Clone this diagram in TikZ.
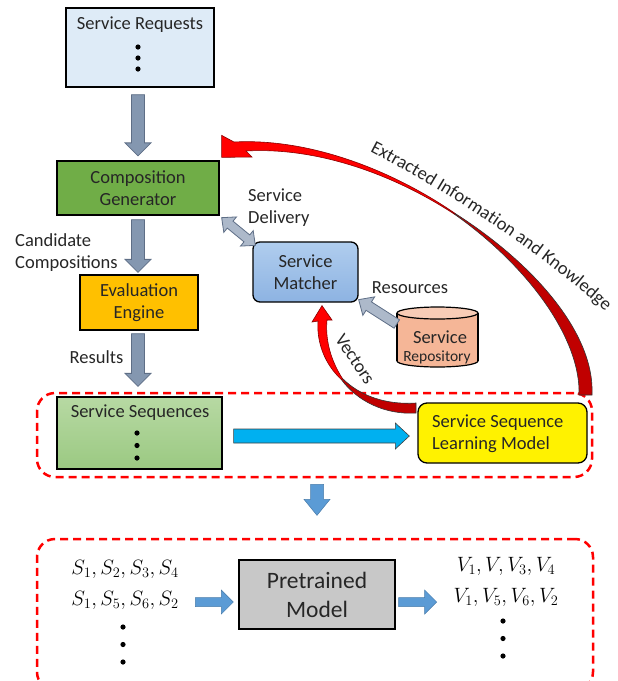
\documentclass[tikz,border=0pt]{standalone}
\usepackage{fontspec}
\setmainfont{Carlito}
\usetikzlibrary{calc,decorations.text}

\definecolor{reqblue}{HTML}{DEEBF7}
\definecolor{gengreen}{HTML}{70AD47}
\definecolor{evalorange}{HTML}{FFC000}
\definecolor{matchtop}{HTML}{B0CDEE}
\definecolor{matchbot}{HTML}{8DB3E2}
\definecolor{seqtop}{HTML}{B7D9A3}
\definecolor{seqbot}{HTML}{9BC982}
\definecolor{repofill}{HTML}{F5B697}
\definecolor{pregray}{HTML}{C8C8C8}
\definecolor{slate}{HTML}{8497B0}
\definecolor{slatedark}{HTML}{5E6E86}
\definecolor{slatelight}{HTML}{ADB9CA}
\definecolor{cyanarrow}{HTML}{00B0F0}
\definecolor{steel}{HTML}{5B9BD5}
\definecolor{ribbonred}{HTML}{FF0000}
\definecolor{ribbondark}{HTML}{C00000}
\definecolor{ink}{HTML}{262626}

\newcommand\diagfont{\fontsize{18.5}{22.5}\selectfont}
\newcommand\smallrepofont{\fontsize{15.5}{18}\selectfont}
\newcommand\prefont{\fontsize{23.5}{29}\selectfont}
\newcommand\seqmathfont{\fontsize{22}{30.5}\selectfont}

% straight block arrow: style, tail, tip, shaft half width, head half width, head length
\newcommand\blockarrow[6]{%
  \coordinate (ba-s) at (#2);
  \coordinate (ba-e) at (#3);
  \coordinate (ba-h) at ($(ba-e)!#6!(ba-s)$);
  \draw[#1] ($(ba-s)!#4!90:(ba-e)$) -- ($(ba-h)!#4!-90:(ba-s)$) -- ($(ba-h)!#5!-90:(ba-s)$)
    -- (ba-e) -- ($(ba-h)!#5!90:(ba-s)$) -- ($(ba-h)!#4!90:(ba-s)$) -- ($(ba-s)!#4!-90:(ba-e)$) -- cycle;
}
% block arrow with a head at both ends
\newcommand\dblarrow[6]{%
  \coordinate (da-s) at (#2);
  \coordinate (da-e) at (#3);
  \coordinate (da-h1) at ($(da-s)!#6!(da-e)$);
  \coordinate (da-h2) at ($(da-e)!#6!(da-s)$);
  \draw[#1] (da-s) -- ($(da-h1)!#5!90:(da-e)$) -- ($(da-h1)!#4!90:(da-e)$) -- ($(da-h2)!#4!-90:(da-s)$)
    -- ($(da-h2)!#5!-90:(da-s)$) -- (da-e) -- ($(da-h2)!#5!90:(da-s)$) -- ($(da-h2)!#4!90:(da-s)$)
    -- ($(da-h1)!#4!-90:(da-e)$) -- ($(da-h1)!#5!-90:(da-e)$) -- cycle;
}

\tikzset{
  box/.style={draw=black, line width=1.3pt, text=ink, font=\diagfont, align=center, inner sep=0pt},
  txt/.style={text=ink, font=\diagfont, inner sep=0pt},
  region/.style={draw=red, line width=2.5pt, dash pattern=on 8pt off 5pt, rounded corners=18pt, inner sep=0pt},
  slatearrow/.style={fill=slate, draw=slatedark, line width=0.8pt},
  palearrow/.style={fill=slatelight, draw=slatedark, line width=0.8pt},
  cyanblock/.style={fill=cyanarrow, draw=black!75, line width=0.6pt},
  steelblock/.style={fill=steel, draw=steel!80!black, line width=0.5pt},
  ribbonlight/.style={fill=ribbonred, draw=ribbondark!70!black, line width=0.6pt},
  ribbonshade/.style={fill=ribbondark, draw=black!80, line width=0.6pt},
  dot/.style={fill=black},
}

\begin{document}
\begin{tikzpicture}[x=1pt, y=-1pt]
\useasboundingbox (0,0) rectangle (618,681);

% dashed regions
\node[region, minimum width=555pt, minimum height=84pt] (learnzone) at (314.5,435) {};
\node[region, minimum width=556pt, minimum height=151pt] (pretrainzone) at (315,614.5) {};

% boxes of the pipeline
\node[box, fill=reqblue, minimum width=148pt, minimum height=79pt] (req) at (140,47.5) {};
\node[txt] (reqtxt) at (140,25) {Service Requests};
\fill[dot] (138,47) circle[radius=2.6pt] (138,58) circle[radius=2.6pt] (138,69) circle[radius=2.6pt];

\node[box, fill=gengreen, minimum width=162pt, minimum height=54pt] (gen) at (138,188) {Composition\\Generator};
\node[box, fill=evalorange, minimum width=118pt, minimum height=55pt] (eval) at (139,302.5) {Evaluation\\Engine};

\node[box, top color=seqtop, bottom color=seqbot, minimum width=165pt, minimum height=72pt] (seq) at (139.5,433) {};
\node[txt] (seqtxt) at (140,413) {Service Sequences};
\fill[dot] (137,433) circle[radius=2.6pt] (137,445.5) circle[radius=2.6pt] (137,458) circle[radius=2.6pt];

\node[box, fill=yellow, rounded corners=9pt, minimum width=169pt, minimum height=60pt] (lm) at (502.5,433) {};
\node[txt, anchor=west, align=left] (lmtxt) at (432,433.5) {Service Sequence\\Learning Model};

\node[box, rounded corners=7pt, top color=matchtop, bottom color=matchbot, minimum width=105pt, minimum height=60pt] (match) at (305.5,272) {Service\\Matcher};

% service repository drum
\node[minimum width=81pt, minimum height=60pt, inner sep=0pt] (repo) at (437.5,337) {};
\filldraw[fill=repofill, draw=black, line width=1.2pt] (437.5,361) ellipse [x radius=40.5pt, y radius=6pt];
\fill[repofill] (397,313) rectangle (478,361);
\draw[line width=1.2pt] (397,313) -- (397,361) (478,313) -- (478,361);
\filldraw[fill=repofill!70!white, draw=black, line width=1.2pt] (437.5,313) ellipse [x radius=40.5pt, y radius=6pt];
\node[txt] (repotxt1) at (440,337) {Service};
\node[txt, font=\smallrepofont] (repotxt2) at (437,357) {Repository};

% labels
\node[txt, anchor=west, align=left] (candlbl) at (15,252.5) {Candidate\\Compositions};
\node[txt] (reslbl) at (96.5,357) {Results};
\node[txt, anchor=west, align=left] (dellbl) at (248,207.5) {Service\\Delivery};
\node[txt] (reslbl2) at (410,288) {Resources};

% pretrained model block
\node[box, fill=pregray, font=\prefont, minimum width=156pt, minimum height=69pt] (pre) at (317,594.5) {Pretrained\\Model};
\node[inner sep=0pt, font=\seqmathfont, align=center] (sseq) at (125,585) {$S_1, S_2, S_3, S_4$\\$S_1, S_5, S_6, S_2$};
\fill[dot] (123,627) circle[radius=2.6pt] (123,644.5) circle[radius=2.6pt] (123,662) circle[radius=2.6pt];
\node[inner sep=0pt, font=\seqmathfont, align=center] (vseq) at (506,582) {$V_1, V, V_3, V_4$\\$V_1, V_5, V_6, V_2$};
\fill[dot] (503,621) circle[radius=2.6pt] (503,638.5) circle[radius=2.6pt] (503,656) circle[radius=2.6pt];

% straight block arrows
\blockarrow{slatearrow}{$(req.south)+(-2,7)$}{$(gen.north)+(0,-4.5)$}{6.5pt}{13pt}{13pt}
\blockarrow{slatearrow}{$(gen.south)+(0,4)$}{$(eval.north)+(-1,-2)$}{6.5pt}{13pt}{13pt}
\blockarrow{slatearrow}{$(eval.south)+(-1,3)$}{$(seq.north)+(-1.5,-10)$}{6.5pt}{13pt}{13pt}
\blockarrow{cyanblock}{$(seq.east)+(11,3)$}{$(lm.west)+(-8,3)$}{7pt}{13pt}{14pt}
\dblarrow{palearrow}{$(gen.south east)+(2,2)$}{$(match.north west)+(3,4)$}{4.5pt}{10pt}{11pt}
\blockarrow{palearrow}{$(repo.west)+(0,-13)$}{$(match.south east)+(0,-3)$}{5pt}{11pt}{12pt}
\blockarrow{steelblock}{$(learnzone.south)+(2.5,6)$}{$(pre.north)+(0,-44)$}{6.5pt}{13pt}{16pt}
\blockarrow{steelblock}{$(pre.west)+(-43,7.5)$}{$(pre.west)+(-5,7.5)$}{4.5pt}{12pt}{12pt}
\blockarrow{steelblock}{$(pre.east)+(3,7.5)$}{$(pre.east)+(41,7.5)$}{4.5pt}{12pt}{12pt}

% curved ribbon arrow feeding knowledge back to the generator
\coordinate (fbtip) at ($(gen.north east)+(2,-25)$);
\draw[ribbonshade] (454.9,213.3) .. controls (533,263) and (595,333) .. (592,395)
  -- (579,395) .. controls (581,340) and (530,267.5) .. (454.3,214.1) -- cycle;
\draw[ribbonlight] (fbtip) -- (234,142) .. controls (310,138) and (392.4,170.3) .. (454.9,213.3)
  -- (454.3,214.1) .. controls (390.8,172.7) and (315,147) .. (246,151)
  -- (252,157) -- ($(fbtip)+(0,22)$) -- cycle;
\path[decorate, decoration={text along path, text align=center,
  text={|\diagfont\color{ink}|Extracted Information and Knowledge}}]
  (350,141) .. controls (440,186) and (542,252) .. (622,326);

% curved ribbon arrow carrying vectors to the matcher
\coordinate (vectip) at ($(match.south)+(16.5,3)$);
\draw[ribbonshade] (341.3,379.5) .. controls (357,401) and (385,415) .. (416,413)
  -- (416,403) .. controls (386,405) and (360,396) .. (342.3,378.3) -- cycle;
\draw[ribbonlight] (312,322) -- (vectip) -- (332,320) -- (327,320) .. controls (325,341) and (331.5,361.5) .. (342.3,378.3)
  -- (341.3,379.5) .. controls (324.5,364) and (316.5,342) .. (318,321) -- cycle;
\node[txt, rotate=-56] (veclbl) at (355,359) {Vectors};

\end{tikzpicture}
\end{document}
